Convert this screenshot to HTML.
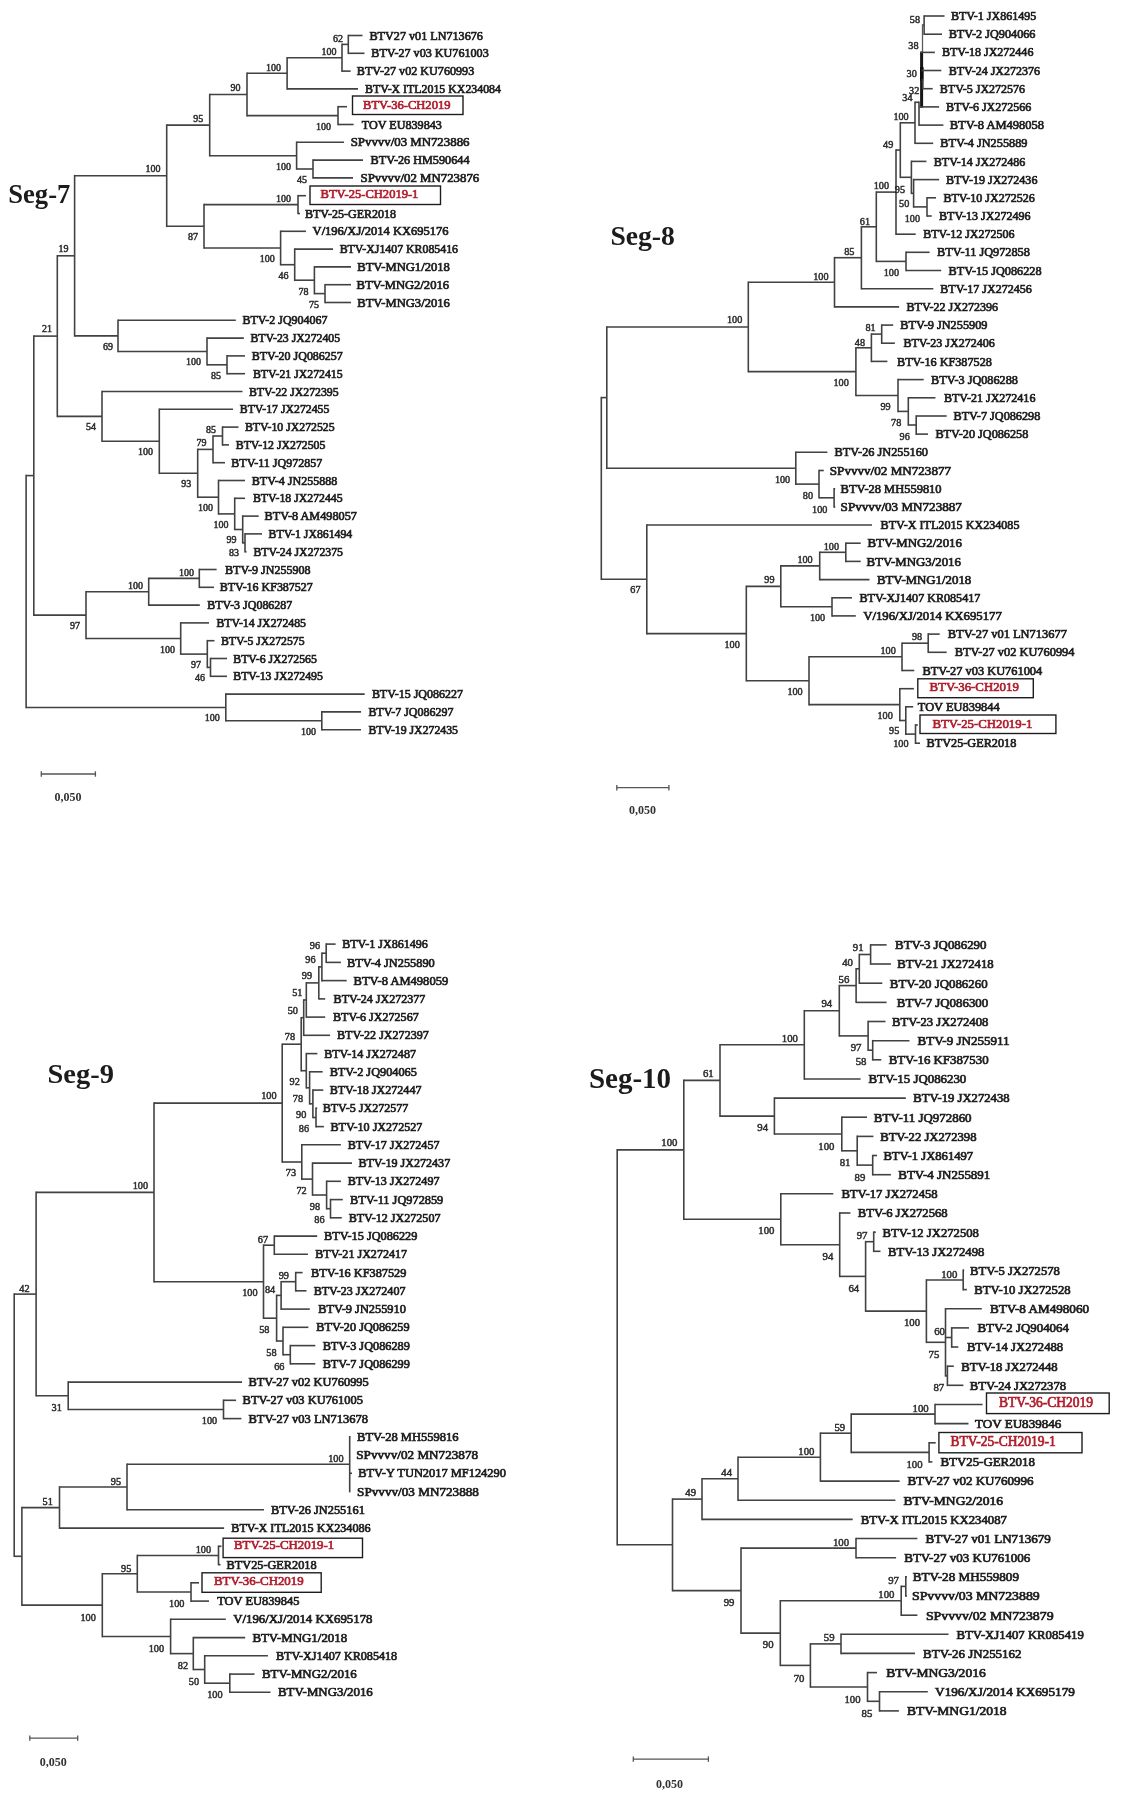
<!DOCTYPE html>
<html><head><meta charset="utf-8"><style>
html,body{margin:0;padding:0;background:#fff;}
svg{display:block;}
.t{font:12px "Liberation Serif",serif;fill:#1f1f1f;stroke:#1f1f1f;stroke-width:0.7px;}
.r{font:12px "Liberation Serif",serif;fill:#b01e2c;stroke:#b01e2c;stroke-width:0.7px;}
.l{font:10px "Liberation Serif",serif;fill:#2e2e2e;stroke:#2e2e2e;stroke-width:0.5px;}
.ti{font:bold 26px "Liberation Serif",serif;fill:#1a1a1a;}
.sc{font:bold 12.5px "Liberation Serif",serif;fill:#333;}
.bx{fill:none;stroke:#1e1e1e;stroke-width:1.4;}
.sb line{stroke:#555;stroke-width:1.3;}
</style></head><body>
<svg width="1126" height="1804" viewBox="0 0 1126 1804">
<defs><filter id="b" x="0" y="0" width="1" height="1"><feGaussianBlur stdDeviation="0.35"/></filter></defs>
<rect width="1126" height="1804" fill="#fff"/>
<g filter="url(#b)">
<g stroke="#424242" stroke-width="1.6" stroke-linecap="butt">
<line x1="26.1" y1="474.8" x2="26.1" y2="708.2"/>
<line x1="26.1" y1="475.6" x2="33.8" y2="475.6"/>
<line x1="33.8" y1="335.3" x2="33.8" y2="615.9"/>
<line x1="33.8" y1="336.1" x2="57.3" y2="336.1"/>
<line x1="57.3" y1="255.0" x2="57.3" y2="417.2"/>
<line x1="57.3" y1="255.8" x2="74.6" y2="255.8"/>
<line x1="74.6" y1="174.9" x2="74.6" y2="336.7"/>
<line x1="74.6" y1="175.7" x2="166.7" y2="175.7"/>
<line x1="166.7" y1="124.3" x2="166.7" y2="227.1"/>
<line x1="166.7" y1="125.1" x2="209.7" y2="125.1"/>
<line x1="209.7" y1="93.7" x2="209.7" y2="156.5"/>
<line x1="209.7" y1="94.5" x2="247.0" y2="94.5"/>
<line x1="247.0" y1="72.5" x2="247.0" y2="116.4"/>
<line x1="247.0" y1="73.3" x2="287.1" y2="73.3"/>
<line x1="287.1" y1="57.0" x2="287.1" y2="89.7"/>
<line x1="287.1" y1="57.8" x2="342.0" y2="57.8"/>
<line x1="342.0" y1="43.6" x2="342.0" y2="71.9"/>
<line x1="342.0" y1="44.4" x2="348.3" y2="44.4"/>
<line x1="348.3" y1="34.7" x2="348.3" y2="54.1"/>
<line x1="348.3" y1="35.5" x2="362.5" y2="35.5"/>
<line x1="348.3" y1="53.3" x2="364.5" y2="53.3"/>
<line x1="342.0" y1="71.1" x2="350.6" y2="71.1"/>
<line x1="287.1" y1="88.9" x2="358.0" y2="88.9"/>
<line x1="247.0" y1="115.6" x2="338.0" y2="115.6"/>
<line x1="338.0" y1="105.9" x2="338.0" y2="125.3"/>
<line x1="338.0" y1="106.7" x2="347.0" y2="106.7"/>
<line x1="338.0" y1="124.5" x2="353.6" y2="124.5"/>
<line x1="209.7" y1="155.7" x2="296.6" y2="155.7"/>
<line x1="296.6" y1="141.5" x2="296.6" y2="169.8"/>
<line x1="296.6" y1="142.3" x2="344.0" y2="142.3"/>
<line x1="296.6" y1="169.0" x2="313.0" y2="169.0"/>
<line x1="313.0" y1="159.3" x2="313.0" y2="178.7"/>
<line x1="313.0" y1="160.1" x2="363.0" y2="160.1"/>
<line x1="313.0" y1="177.9" x2="353.0" y2="177.9"/>
<line x1="166.7" y1="226.3" x2="204.0" y2="226.3"/>
<line x1="204.0" y1="203.8" x2="204.0" y2="248.8"/>
<line x1="204.0" y1="204.6" x2="298.0" y2="204.6"/>
<line x1="298.0" y1="194.9" x2="298.0" y2="214.3"/>
<line x1="298.0" y1="195.7" x2="306.0" y2="195.7"/>
<line x1="298.0" y1="213.5" x2="300.0" y2="213.5"/>
<line x1="204.0" y1="248.0" x2="280.6" y2="248.0"/>
<line x1="280.6" y1="230.5" x2="280.6" y2="265.5"/>
<line x1="280.6" y1="231.3" x2="306.0" y2="231.3"/>
<line x1="280.6" y1="264.7" x2="294.7" y2="264.7"/>
<line x1="294.7" y1="248.3" x2="294.7" y2="281.1"/>
<line x1="294.7" y1="249.1" x2="333.0" y2="249.1"/>
<line x1="294.7" y1="280.2" x2="314.4" y2="280.2"/>
<line x1="314.4" y1="266.1" x2="314.4" y2="294.4"/>
<line x1="314.4" y1="266.9" x2="351.0" y2="266.9"/>
<line x1="314.4" y1="293.6" x2="325.0" y2="293.6"/>
<line x1="325.0" y1="283.9" x2="325.0" y2="303.3"/>
<line x1="325.0" y1="284.7" x2="351.0" y2="284.7"/>
<line x1="325.0" y1="302.5" x2="351.0" y2="302.5"/>
<line x1="74.6" y1="335.9" x2="118.0" y2="335.9"/>
<line x1="118.0" y1="319.5" x2="118.0" y2="352.3"/>
<line x1="118.0" y1="320.3" x2="235.8" y2="320.3"/>
<line x1="118.0" y1="351.5" x2="207.0" y2="351.5"/>
<line x1="207.0" y1="337.3" x2="207.0" y2="365.6"/>
<line x1="207.0" y1="338.1" x2="243.8" y2="338.1"/>
<line x1="207.0" y1="364.8" x2="227.0" y2="364.8"/>
<line x1="227.0" y1="355.1" x2="227.0" y2="374.5"/>
<line x1="227.0" y1="355.9" x2="245.0" y2="355.9"/>
<line x1="227.0" y1="373.7" x2="245.0" y2="373.7"/>
<line x1="57.3" y1="416.4" x2="102.0" y2="416.4"/>
<line x1="102.0" y1="390.7" x2="102.0" y2="442.1"/>
<line x1="102.0" y1="391.5" x2="242.5" y2="391.5"/>
<line x1="102.0" y1="441.3" x2="159.3" y2="441.3"/>
<line x1="159.3" y1="408.5" x2="159.3" y2="474.1"/>
<line x1="159.3" y1="409.3" x2="233.0" y2="409.3"/>
<line x1="159.3" y1="473.3" x2="197.7" y2="473.3"/>
<line x1="197.7" y1="448.6" x2="197.7" y2="498.0"/>
<line x1="197.7" y1="449.4" x2="213.0" y2="449.4"/>
<line x1="213.0" y1="435.2" x2="213.0" y2="463.5"/>
<line x1="213.0" y1="436.0" x2="222.5" y2="436.0"/>
<line x1="222.5" y1="426.3" x2="222.5" y2="445.7"/>
<line x1="222.5" y1="427.1" x2="238.5" y2="427.1"/>
<line x1="222.5" y1="444.9" x2="229.0" y2="444.9"/>
<line x1="213.0" y1="462.7" x2="225.0" y2="462.7"/>
<line x1="197.7" y1="497.2" x2="218.5" y2="497.2"/>
<line x1="218.5" y1="479.7" x2="218.5" y2="514.7"/>
<line x1="218.5" y1="480.5" x2="245.0" y2="480.5"/>
<line x1="218.5" y1="513.9" x2="234.7" y2="513.9"/>
<line x1="234.7" y1="497.5" x2="234.7" y2="530.2"/>
<line x1="234.7" y1="498.3" x2="245.0" y2="498.3"/>
<line x1="234.7" y1="529.5" x2="242.7" y2="529.5"/>
<line x1="242.7" y1="515.3" x2="242.7" y2="543.6"/>
<line x1="242.7" y1="516.1" x2="258.7" y2="516.1"/>
<line x1="242.7" y1="542.8" x2="245.0" y2="542.8"/>
<line x1="245.0" y1="533.1" x2="245.0" y2="552.5"/>
<line x1="245.0" y1="533.9" x2="262.0" y2="533.9"/>
<line x1="245.0" y1="551.7" x2="246.5" y2="551.7"/>
<line x1="33.8" y1="615.1" x2="86.0" y2="615.1"/>
<line x1="86.0" y1="591.0" x2="86.0" y2="639.3"/>
<line x1="86.0" y1="591.8" x2="148.7" y2="591.8"/>
<line x1="148.7" y1="577.6" x2="148.7" y2="605.9"/>
<line x1="148.7" y1="578.4" x2="199.3" y2="578.4"/>
<line x1="199.3" y1="568.7" x2="199.3" y2="588.1"/>
<line x1="199.3" y1="569.5" x2="216.6" y2="569.5"/>
<line x1="199.3" y1="587.3" x2="214.0" y2="587.3"/>
<line x1="148.7" y1="605.1" x2="199.8" y2="605.1"/>
<line x1="86.0" y1="638.5" x2="180.7" y2="638.5"/>
<line x1="180.7" y1="622.1" x2="180.7" y2="654.9"/>
<line x1="180.7" y1="622.9" x2="209.0" y2="622.9"/>
<line x1="180.7" y1="654.1" x2="207.3" y2="654.1"/>
<line x1="207.3" y1="639.9" x2="207.3" y2="668.2"/>
<line x1="207.3" y1="640.7" x2="214.5" y2="640.7"/>
<line x1="207.3" y1="667.4" x2="210.5" y2="667.4"/>
<line x1="210.5" y1="657.7" x2="210.5" y2="677.1"/>
<line x1="210.5" y1="658.5" x2="227.0" y2="658.5"/>
<line x1="210.5" y1="676.3" x2="227.0" y2="676.3"/>
<line x1="26.1" y1="707.5" x2="225.8" y2="707.5"/>
<line x1="225.8" y1="693.3" x2="225.8" y2="721.6"/>
<line x1="225.8" y1="694.1" x2="364.7" y2="694.1"/>
<line x1="225.8" y1="720.8" x2="321.8" y2="720.8"/>
<line x1="321.8" y1="711.1" x2="321.8" y2="730.5"/>
<line x1="321.8" y1="711.9" x2="361.0" y2="711.9"/>
<line x1="321.8" y1="729.7" x2="361.0" y2="729.7"/>
<line x1="601.3" y1="396.8" x2="601.3" y2="580.1"/>
<line x1="601.3" y1="397.6" x2="606.8" y2="397.6"/>
<line x1="606.8" y1="326.2" x2="606.8" y2="469.0"/>
<line x1="606.8" y1="327.0" x2="748.3" y2="327.0"/>
<line x1="748.3" y1="281.5" x2="748.3" y2="372.4"/>
<line x1="748.3" y1="282.3" x2="834.5" y2="282.3"/>
<line x1="834.5" y1="256.9" x2="834.5" y2="307.7"/>
<line x1="834.5" y1="257.7" x2="861.4" y2="257.7"/>
<line x1="861.4" y1="226.0" x2="861.4" y2="289.5"/>
<line x1="861.4" y1="226.8" x2="876.3" y2="226.8"/>
<line x1="876.3" y1="191.3" x2="876.3" y2="262.2"/>
<line x1="876.3" y1="192.1" x2="896.0" y2="192.1"/>
<line x1="896.0" y1="149.3" x2="896.0" y2="235.0"/>
<line x1="896.0" y1="150.1" x2="900.3" y2="150.1"/>
<line x1="900.3" y1="122.0" x2="900.3" y2="178.1"/>
<line x1="900.3" y1="122.8" x2="915.0" y2="122.8"/>
<line x1="915.0" y1="101.5" x2="915.0" y2="144.1"/>
<line x1="915.0" y1="102.3" x2="919.0" y2="102.3"/>
<line x1="924.1" y1="15.2" x2="924.1" y2="35.0"/>
<line x1="924.1" y1="16.0" x2="944.5" y2="16.0"/>
<line x1="924.1" y1="34.2" x2="942.0" y2="34.2"/>
<line x1="922.5" y1="25.1" x2="924.1" y2="25.1"/>
<line x1="922.5" y1="24.3" x2="922.5" y2="53.2" stroke-width="1.3" stroke="#5a5a5a"/>
<line x1="921.6" y1="51.6" x2="921.6" y2="107.7" stroke-width="3.0" stroke="#161616"/>
<line x1="921.8" y1="67.2" x2="921.8" y2="80.8" stroke-width="3.6" stroke="#0a0a0a"/>
<line x1="920.4" y1="52.4" x2="934.9" y2="52.4"/>
<line x1="921.5" y1="70.5" x2="941.3" y2="70.5"/>
<line x1="923.2" y1="79.2" x2="923.2" y2="89.5" stroke-width="1.3" stroke="#6a6a6a"/>
<line x1="921.5" y1="80.0" x2="923.2" y2="80.0"/>
<line x1="923.2" y1="88.7" x2="932.7" y2="88.7"/>
<line x1="919.3" y1="106.9" x2="939.1" y2="106.9"/>
<line x1="919.0" y1="101.5" x2="919.0" y2="125.9"/>
<line x1="919.0" y1="125.1" x2="943.4" y2="125.1"/>
<line x1="915.0" y1="143.3" x2="933.2" y2="143.3"/>
<line x1="900.3" y1="177.3" x2="911.4" y2="177.3"/>
<line x1="911.4" y1="160.6" x2="911.4" y2="194.1"/>
<line x1="911.4" y1="161.4" x2="926.4" y2="161.4"/>
<line x1="911.4" y1="193.3" x2="913.6" y2="193.3"/>
<line x1="913.6" y1="178.8" x2="913.6" y2="207.7"/>
<line x1="913.6" y1="179.6" x2="939.1" y2="179.6"/>
<line x1="913.6" y1="206.9" x2="927.0" y2="206.9"/>
<line x1="927.0" y1="197.0" x2="927.0" y2="216.8"/>
<line x1="927.0" y1="197.8" x2="936.0" y2="197.8"/>
<line x1="927.0" y1="216.0" x2="931.7" y2="216.0"/>
<line x1="896.0" y1="234.2" x2="915.7" y2="234.2"/>
<line x1="876.3" y1="261.4" x2="906.0" y2="261.4"/>
<line x1="906.0" y1="251.5" x2="906.0" y2="271.3"/>
<line x1="906.0" y1="252.3" x2="929.6" y2="252.3"/>
<line x1="906.0" y1="270.5" x2="941.2" y2="270.5"/>
<line x1="861.4" y1="288.7" x2="933.3" y2="288.7"/>
<line x1="834.5" y1="306.9" x2="899.1" y2="306.9"/>
<line x1="748.3" y1="371.6" x2="855.9" y2="371.6"/>
<line x1="855.9" y1="347.0" x2="855.9" y2="396.3"/>
<line x1="855.9" y1="347.8" x2="871.4" y2="347.8"/>
<line x1="871.4" y1="333.3" x2="871.4" y2="362.2"/>
<line x1="871.4" y1="334.1" x2="881.7" y2="334.1"/>
<line x1="881.7" y1="324.3" x2="881.7" y2="344.0"/>
<line x1="881.7" y1="325.1" x2="893.2" y2="325.1"/>
<line x1="881.7" y1="343.2" x2="894.9" y2="343.2"/>
<line x1="871.4" y1="361.4" x2="887.4" y2="361.4"/>
<line x1="855.9" y1="395.5" x2="898.0" y2="395.5"/>
<line x1="898.0" y1="378.8" x2="898.0" y2="412.2"/>
<line x1="898.0" y1="379.6" x2="923.7" y2="379.6"/>
<line x1="898.0" y1="411.4" x2="908.3" y2="411.4"/>
<line x1="908.3" y1="397.0" x2="908.3" y2="425.8"/>
<line x1="908.3" y1="397.8" x2="935.4" y2="397.8"/>
<line x1="908.3" y1="425.0" x2="916.2" y2="425.0"/>
<line x1="916.2" y1="415.2" x2="916.2" y2="434.9"/>
<line x1="916.2" y1="416.0" x2="946.7" y2="416.0"/>
<line x1="916.2" y1="434.1" x2="928.0" y2="434.1"/>
<line x1="606.8" y1="468.2" x2="795.8" y2="468.2"/>
<line x1="795.8" y1="451.5" x2="795.8" y2="484.9"/>
<line x1="795.8" y1="452.3" x2="827.4" y2="452.3"/>
<line x1="795.8" y1="484.1" x2="819.0" y2="484.1"/>
<line x1="819.0" y1="469.7" x2="819.0" y2="498.6"/>
<line x1="819.0" y1="470.5" x2="823.8" y2="470.5"/>
<line x1="819.0" y1="497.8" x2="834.1" y2="497.8"/>
<line x1="834.1" y1="487.9" x2="834.1" y2="507.7"/>
<line x1="834.1" y1="488.7" x2="835.2" y2="488.7"/>
<line x1="834.1" y1="506.9" x2="835.2" y2="506.9"/>
<line x1="601.3" y1="579.3" x2="646.8" y2="579.3"/>
<line x1="646.8" y1="524.2" x2="646.8" y2="634.4"/>
<line x1="646.8" y1="525.0" x2="872.0" y2="525.0"/>
<line x1="646.8" y1="633.6" x2="746.3" y2="633.6"/>
<line x1="746.3" y1="585.6" x2="746.3" y2="681.5"/>
<line x1="746.3" y1="586.4" x2="780.8" y2="586.4"/>
<line x1="780.8" y1="565.1" x2="780.8" y2="607.6"/>
<line x1="780.8" y1="565.9" x2="819.7" y2="565.9"/>
<line x1="819.7" y1="551.5" x2="819.7" y2="580.4"/>
<line x1="819.7" y1="552.3" x2="845.8" y2="552.3"/>
<line x1="845.8" y1="542.4" x2="845.8" y2="562.2"/>
<line x1="845.8" y1="543.2" x2="860.7" y2="543.2"/>
<line x1="845.8" y1="561.4" x2="860.7" y2="561.4"/>
<line x1="819.7" y1="579.6" x2="869.5" y2="579.6"/>
<line x1="780.8" y1="606.8" x2="832.0" y2="606.8"/>
<line x1="832.0" y1="597.0" x2="832.0" y2="616.7"/>
<line x1="832.0" y1="597.8" x2="852.0" y2="597.8"/>
<line x1="832.0" y1="615.9" x2="855.8" y2="615.9"/>
<line x1="746.3" y1="680.7" x2="809.0" y2="680.7"/>
<line x1="809.0" y1="656.0" x2="809.0" y2="705.4"/>
<line x1="809.0" y1="656.8" x2="902.0" y2="656.8"/>
<line x1="902.0" y1="642.4" x2="902.0" y2="671.3"/>
<line x1="902.0" y1="643.2" x2="928.2" y2="643.2"/>
<line x1="928.2" y1="633.3" x2="928.2" y2="653.1"/>
<line x1="928.2" y1="634.1" x2="939.7" y2="634.1"/>
<line x1="928.2" y1="652.3" x2="946.7" y2="652.3"/>
<line x1="902.0" y1="670.5" x2="914.3" y2="670.5"/>
<line x1="809.0" y1="704.6" x2="899.8" y2="704.6"/>
<line x1="899.8" y1="687.9" x2="899.8" y2="721.3"/>
<line x1="899.8" y1="688.7" x2="913.9" y2="688.7"/>
<line x1="899.8" y1="720.5" x2="905.8" y2="720.5"/>
<line x1="905.8" y1="706.0" x2="905.8" y2="734.9"/>
<line x1="905.8" y1="706.8" x2="913.2" y2="706.8"/>
<line x1="905.8" y1="734.1" x2="915.5" y2="734.1"/>
<line x1="915.5" y1="724.2" x2="915.5" y2="744.0"/>
<line x1="915.5" y1="725.0" x2="917.8" y2="725.0"/>
<line x1="915.5" y1="743.2" x2="920.0" y2="743.2"/>
<line x1="14.2" y1="1293.3" x2="14.2" y2="1557.1"/>
<line x1="14.2" y1="1294.1" x2="36.1" y2="1294.1"/>
<line x1="36.1" y1="1191.6" x2="36.1" y2="1396.6"/>
<line x1="36.1" y1="1192.4" x2="154.0" y2="1192.4"/>
<line x1="154.0" y1="1102.3" x2="154.0" y2="1282.5"/>
<line x1="154.0" y1="1103.1" x2="282.2" y2="1103.1"/>
<line x1="282.2" y1="1043.4" x2="282.2" y2="1162.8"/>
<line x1="282.2" y1="1044.2" x2="301.2" y2="1044.2"/>
<line x1="301.2" y1="1016.9" x2="301.2" y2="1071.5"/>
<line x1="301.2" y1="1017.7" x2="303.7" y2="1017.7"/>
<line x1="303.7" y1="999.2" x2="303.7" y2="1036.1"/>
<line x1="303.7" y1="1000.0" x2="306.3" y2="1000.0"/>
<line x1="306.3" y1="982.1" x2="306.3" y2="1017.9"/>
<line x1="306.3" y1="982.9" x2="318.8" y2="982.9"/>
<line x1="318.8" y1="966.1" x2="318.8" y2="999.6"/>
<line x1="318.8" y1="966.9" x2="321.9" y2="966.9"/>
<line x1="321.9" y1="952.4" x2="321.9" y2="981.4"/>
<line x1="321.9" y1="953.2" x2="326.2" y2="953.2"/>
<line x1="326.2" y1="943.3" x2="326.2" y2="963.1"/>
<line x1="326.2" y1="944.1" x2="335.6" y2="944.1"/>
<line x1="326.2" y1="962.4" x2="340.9" y2="962.4"/>
<line x1="321.9" y1="980.6" x2="346.7" y2="980.6"/>
<line x1="318.8" y1="998.9" x2="325.2" y2="998.9"/>
<line x1="306.3" y1="1017.1" x2="325.2" y2="1017.1"/>
<line x1="303.7" y1="1035.3" x2="330.1" y2="1035.3"/>
<line x1="301.2" y1="1070.7" x2="306.3" y2="1070.7"/>
<line x1="306.3" y1="1052.8" x2="306.3" y2="1088.6"/>
<line x1="306.3" y1="1053.6" x2="317.4" y2="1053.6"/>
<line x1="306.3" y1="1087.8" x2="309.6" y2="1087.8"/>
<line x1="309.6" y1="1071.0" x2="309.6" y2="1104.6"/>
<line x1="309.6" y1="1071.8" x2="322.7" y2="1071.8"/>
<line x1="309.6" y1="1103.8" x2="312.9" y2="1103.8"/>
<line x1="312.9" y1="1089.3" x2="312.9" y2="1118.3"/>
<line x1="312.9" y1="1090.1" x2="323.3" y2="1090.1"/>
<line x1="312.9" y1="1117.5" x2="316.0" y2="1117.5"/>
<line x1="316.0" y1="1107.5" x2="316.0" y2="1127.4"/>
<line x1="316.0" y1="1108.3" x2="317.2" y2="1108.3"/>
<line x1="316.0" y1="1126.6" x2="323.9" y2="1126.6"/>
<line x1="282.2" y1="1162.0" x2="301.8" y2="1162.0"/>
<line x1="301.8" y1="1144.0" x2="301.8" y2="1179.9"/>
<line x1="301.8" y1="1144.8" x2="340.9" y2="1144.8"/>
<line x1="301.8" y1="1179.1" x2="312.5" y2="1179.1"/>
<line x1="312.5" y1="1162.3" x2="312.5" y2="1195.8"/>
<line x1="312.5" y1="1163.1" x2="352.0" y2="1163.1"/>
<line x1="312.5" y1="1195.0" x2="326.6" y2="1195.0"/>
<line x1="326.6" y1="1180.5" x2="326.6" y2="1209.5"/>
<line x1="326.6" y1="1181.3" x2="340.9" y2="1181.3"/>
<line x1="326.6" y1="1208.7" x2="330.5" y2="1208.7"/>
<line x1="330.5" y1="1198.8" x2="330.5" y2="1218.6"/>
<line x1="330.5" y1="1199.6" x2="342.8" y2="1199.6"/>
<line x1="330.5" y1="1217.8" x2="341.8" y2="1217.8"/>
<line x1="154.0" y1="1281.7" x2="263.5" y2="1281.7"/>
<line x1="263.5" y1="1244.4" x2="263.5" y2="1319.0"/>
<line x1="263.5" y1="1245.2" x2="274.3" y2="1245.2"/>
<line x1="274.3" y1="1235.3" x2="274.3" y2="1255.1"/>
<line x1="274.3" y1="1236.1" x2="317.2" y2="1236.1"/>
<line x1="274.3" y1="1254.3" x2="307.9" y2="1254.3"/>
<line x1="263.5" y1="1318.2" x2="276.6" y2="1318.2"/>
<line x1="276.6" y1="1294.6" x2="276.6" y2="1341.8"/>
<line x1="276.6" y1="1295.4" x2="281.1" y2="1295.4"/>
<line x1="281.1" y1="1280.9" x2="281.1" y2="1309.9"/>
<line x1="281.1" y1="1281.7" x2="295.7" y2="1281.7"/>
<line x1="295.7" y1="1271.8" x2="295.7" y2="1291.6"/>
<line x1="295.7" y1="1272.6" x2="302.6" y2="1272.6"/>
<line x1="295.7" y1="1290.8" x2="306.5" y2="1290.8"/>
<line x1="281.1" y1="1309.1" x2="309.8" y2="1309.1"/>
<line x1="276.6" y1="1341.0" x2="283.0" y2="1341.0"/>
<line x1="283.0" y1="1326.5" x2="283.0" y2="1355.5"/>
<line x1="283.0" y1="1327.3" x2="308.4" y2="1327.3"/>
<line x1="283.0" y1="1354.7" x2="290.3" y2="1354.7"/>
<line x1="290.3" y1="1344.8" x2="290.3" y2="1364.6"/>
<line x1="290.3" y1="1345.6" x2="315.3" y2="1345.6"/>
<line x1="290.3" y1="1363.8" x2="315.3" y2="1363.8"/>
<line x1="36.1" y1="1395.8" x2="68.2" y2="1395.8"/>
<line x1="68.2" y1="1381.3" x2="68.2" y2="1410.3"/>
<line x1="68.2" y1="1382.1" x2="242.0" y2="1382.1"/>
<line x1="68.2" y1="1409.5" x2="223.5" y2="1409.5"/>
<line x1="223.5" y1="1399.5" x2="223.5" y2="1419.4"/>
<line x1="223.5" y1="1400.3" x2="236.1" y2="1400.3"/>
<line x1="223.5" y1="1418.6" x2="241.4" y2="1418.6"/>
<line x1="14.2" y1="1556.3" x2="21.9" y2="1556.3"/>
<line x1="21.9" y1="1506.8" x2="21.9" y2="1605.9"/>
<line x1="21.9" y1="1507.6" x2="59.5" y2="1507.6"/>
<line x1="59.5" y1="1486.2" x2="59.5" y2="1528.9"/>
<line x1="59.5" y1="1487.0" x2="127.0" y2="1487.0"/>
<line x1="127.0" y1="1463.4" x2="127.0" y2="1510.6"/>
<line x1="127.0" y1="1464.2" x2="349.7" y2="1464.2"/>
<line x1="349.7" y1="1436.0" x2="349.7" y2="1492.4"/>
<line x1="349.7" y1="1436.8" x2="350.2" y2="1436.8"/>
<line x1="349.7" y1="1455.1" x2="349.7" y2="1455.1"/>
<line x1="349.7" y1="1473.3" x2="352.0" y2="1473.3"/>
<line x1="349.7" y1="1491.6" x2="349.7" y2="1491.6"/>
<line x1="127.0" y1="1509.8" x2="264.0" y2="1509.8"/>
<line x1="59.5" y1="1528.1" x2="224.1" y2="1528.1"/>
<line x1="21.9" y1="1605.1" x2="102.3" y2="1605.1"/>
<line x1="102.3" y1="1572.9" x2="102.3" y2="1637.3"/>
<line x1="102.3" y1="1573.7" x2="137.3" y2="1573.7"/>
<line x1="137.3" y1="1554.7" x2="137.3" y2="1592.8"/>
<line x1="137.3" y1="1555.5" x2="218.5" y2="1555.5"/>
<line x1="218.5" y1="1545.5" x2="218.5" y2="1565.4"/>
<line x1="218.5" y1="1546.3" x2="221.5" y2="1546.3"/>
<line x1="218.5" y1="1564.6" x2="220.5" y2="1564.6"/>
<line x1="137.3" y1="1592.0" x2="191.0" y2="1592.0"/>
<line x1="191.0" y1="1582.0" x2="191.0" y2="1601.9"/>
<line x1="191.0" y1="1582.8" x2="199.0" y2="1582.8"/>
<line x1="191.0" y1="1601.1" x2="209.0" y2="1601.1"/>
<line x1="102.3" y1="1636.5" x2="170.6" y2="1636.5"/>
<line x1="170.6" y1="1618.5" x2="170.6" y2="1654.4"/>
<line x1="170.6" y1="1619.3" x2="225.8" y2="1619.3"/>
<line x1="170.6" y1="1653.6" x2="193.3" y2="1653.6"/>
<line x1="193.3" y1="1636.8" x2="193.3" y2="1670.3"/>
<line x1="193.3" y1="1637.6" x2="245.2" y2="1637.6"/>
<line x1="193.3" y1="1669.5" x2="204.7" y2="1669.5"/>
<line x1="204.7" y1="1655.0" x2="204.7" y2="1684.0"/>
<line x1="204.7" y1="1655.8" x2="267.9" y2="1655.8"/>
<line x1="204.7" y1="1683.2" x2="229.8" y2="1683.2"/>
<line x1="229.8" y1="1673.3" x2="229.8" y2="1693.1"/>
<line x1="229.8" y1="1674.1" x2="254.5" y2="1674.1"/>
<line x1="229.8" y1="1692.3" x2="270.5" y2="1692.3"/>
<line x1="617.2" y1="1149.1" x2="617.2" y2="1545.6"/>
<line x1="617.2" y1="1149.9" x2="683.8" y2="1149.9"/>
<line x1="683.8" y1="1079.6" x2="683.8" y2="1220.1"/>
<line x1="683.8" y1="1080.4" x2="720.0" y2="1080.4"/>
<line x1="720.0" y1="1044.0" x2="720.0" y2="1116.9"/>
<line x1="720.0" y1="1044.8" x2="804.3" y2="1044.8"/>
<line x1="804.3" y1="1009.9" x2="804.3" y2="1079.8"/>
<line x1="804.3" y1="1010.7" x2="839.3" y2="1010.7"/>
<line x1="839.3" y1="984.8" x2="839.3" y2="1036.7"/>
<line x1="839.3" y1="985.6" x2="856.1" y2="985.6"/>
<line x1="856.1" y1="968.0" x2="856.1" y2="1003.1"/>
<line x1="856.1" y1="968.8" x2="859.3" y2="968.8"/>
<line x1="859.3" y1="953.7" x2="859.3" y2="984.0"/>
<line x1="859.3" y1="954.5" x2="870.6" y2="954.5"/>
<line x1="870.6" y1="944.1" x2="870.6" y2="964.8"/>
<line x1="870.6" y1="944.9" x2="886.6" y2="944.9"/>
<line x1="870.6" y1="964.0" x2="890.9" y2="964.0"/>
<line x1="859.3" y1="983.2" x2="882.3" y2="983.2"/>
<line x1="856.1" y1="1002.4" x2="886.6" y2="1002.4"/>
<line x1="839.3" y1="1035.9" x2="868.1" y2="1035.9"/>
<line x1="868.1" y1="1020.7" x2="868.1" y2="1051.0"/>
<line x1="868.1" y1="1021.5" x2="885.5" y2="1021.5"/>
<line x1="868.1" y1="1050.2" x2="872.7" y2="1050.2"/>
<line x1="872.7" y1="1039.9" x2="872.7" y2="1060.6"/>
<line x1="872.7" y1="1040.7" x2="909.5" y2="1040.7"/>
<line x1="872.7" y1="1059.8" x2="881.3" y2="1059.8"/>
<line x1="804.3" y1="1079.0" x2="860.6" y2="1079.0"/>
<line x1="720.0" y1="1116.1" x2="774.4" y2="1116.1"/>
<line x1="774.4" y1="1097.3" x2="774.4" y2="1134.8"/>
<line x1="774.4" y1="1098.1" x2="905.8" y2="1098.1"/>
<line x1="774.4" y1="1134.0" x2="841.8" y2="1134.0"/>
<line x1="841.8" y1="1116.5" x2="841.8" y2="1151.6"/>
<line x1="841.8" y1="1117.2" x2="867.0" y2="1117.2"/>
<line x1="841.8" y1="1150.8" x2="857.2" y2="1150.8"/>
<line x1="857.2" y1="1135.6" x2="857.2" y2="1165.9"/>
<line x1="857.2" y1="1136.4" x2="873.4" y2="1136.4"/>
<line x1="857.2" y1="1165.1" x2="872.7" y2="1165.1"/>
<line x1="872.7" y1="1154.8" x2="872.7" y2="1175.5"/>
<line x1="872.7" y1="1155.5" x2="877.0" y2="1155.5"/>
<line x1="872.7" y1="1174.7" x2="890.9" y2="1174.7"/>
<line x1="683.8" y1="1219.3" x2="780.8" y2="1219.3"/>
<line x1="780.8" y1="1193.0" x2="780.8" y2="1245.5"/>
<line x1="780.8" y1="1193.8" x2="833.3" y2="1193.8"/>
<line x1="780.8" y1="1244.7" x2="839.7" y2="1244.7"/>
<line x1="839.7" y1="1212.2" x2="839.7" y2="1277.2"/>
<line x1="839.7" y1="1213.0" x2="850.4" y2="1213.0"/>
<line x1="839.7" y1="1276.4" x2="865.6" y2="1276.4"/>
<line x1="865.6" y1="1240.9" x2="865.6" y2="1311.9"/>
<line x1="865.6" y1="1241.7" x2="873.7" y2="1241.7"/>
<line x1="873.7" y1="1231.4" x2="873.7" y2="1252.1"/>
<line x1="873.7" y1="1232.2" x2="875.8" y2="1232.2"/>
<line x1="873.7" y1="1251.3" x2="880.5" y2="1251.3"/>
<line x1="865.6" y1="1311.1" x2="926.4" y2="1311.1"/>
<line x1="926.4" y1="1279.2" x2="926.4" y2="1343.1"/>
<line x1="926.4" y1="1280.0" x2="963.2" y2="1280.0"/>
<line x1="963.2" y1="1269.6" x2="963.2" y2="1290.4"/>
<line x1="963.2" y1="1270.4" x2="964.2" y2="1270.4"/>
<line x1="963.2" y1="1289.6" x2="966.9" y2="1289.6"/>
<line x1="926.4" y1="1342.3" x2="945.5" y2="1342.3"/>
<line x1="945.5" y1="1308.0" x2="945.5" y2="1376.6"/>
<line x1="945.5" y1="1308.8" x2="981.8" y2="1308.8"/>
<line x1="945.5" y1="1337.5" x2="951.7" y2="1337.5"/>
<line x1="951.7" y1="1327.1" x2="951.7" y2="1347.8"/>
<line x1="951.7" y1="1327.9" x2="969.0" y2="1327.9"/>
<line x1="951.7" y1="1347.0" x2="958.3" y2="1347.0"/>
<line x1="945.5" y1="1375.8" x2="947.4" y2="1375.8"/>
<line x1="947.4" y1="1365.4" x2="947.4" y2="1386.1"/>
<line x1="947.4" y1="1366.2" x2="953.8" y2="1366.2"/>
<line x1="947.4" y1="1385.3" x2="963.4" y2="1385.3"/>
<line x1="617.2" y1="1544.8" x2="672.5" y2="1544.8"/>
<line x1="672.5" y1="1498.3" x2="672.5" y2="1591.4"/>
<line x1="672.5" y1="1499.1" x2="702.0" y2="1499.1"/>
<line x1="702.0" y1="1477.9" x2="702.0" y2="1520.2"/>
<line x1="702.0" y1="1478.7" x2="738.0" y2="1478.7"/>
<line x1="738.0" y1="1456.4" x2="738.0" y2="1501.0"/>
<line x1="738.0" y1="1457.2" x2="820.4" y2="1457.2"/>
<line x1="820.4" y1="1432.4" x2="820.4" y2="1481.9"/>
<line x1="820.4" y1="1433.2" x2="851.2" y2="1433.2"/>
<line x1="851.2" y1="1413.3" x2="851.2" y2="1453.2"/>
<line x1="851.2" y1="1414.1" x2="935.0" y2="1414.1"/>
<line x1="935.0" y1="1403.7" x2="935.0" y2="1424.4"/>
<line x1="935.0" y1="1404.5" x2="982.6" y2="1404.5"/>
<line x1="935.0" y1="1423.6" x2="968.5" y2="1423.6"/>
<line x1="851.2" y1="1452.4" x2="929.1" y2="1452.4"/>
<line x1="929.1" y1="1442.0" x2="929.1" y2="1462.7"/>
<line x1="929.1" y1="1442.8" x2="935.7" y2="1442.8"/>
<line x1="929.1" y1="1461.9" x2="932.4" y2="1461.9"/>
<line x1="820.4" y1="1481.1" x2="899.6" y2="1481.1"/>
<line x1="738.0" y1="1500.2" x2="895.4" y2="1500.2"/>
<line x1="702.0" y1="1519.4" x2="852.7" y2="1519.4"/>
<line x1="672.5" y1="1590.6" x2="741.0" y2="1590.6"/>
<line x1="741.0" y1="1547.3" x2="741.0" y2="1633.9"/>
<line x1="741.0" y1="1548.1" x2="856.0" y2="1548.1"/>
<line x1="856.0" y1="1537.8" x2="856.0" y2="1558.5"/>
<line x1="856.0" y1="1538.5" x2="917.4" y2="1538.5"/>
<line x1="856.0" y1="1557.7" x2="896.1" y2="1557.7"/>
<line x1="741.0" y1="1633.1" x2="780.3" y2="1633.1"/>
<line x1="780.3" y1="1600.0" x2="780.3" y2="1666.2"/>
<line x1="780.3" y1="1600.8" x2="901.2" y2="1600.8"/>
<line x1="901.2" y1="1585.6" x2="901.2" y2="1616.0"/>
<line x1="901.2" y1="1586.4" x2="905.8" y2="1586.4"/>
<line x1="905.8" y1="1576.0" x2="905.8" y2="1596.8"/>
<line x1="905.8" y1="1576.8" x2="906.8" y2="1576.8"/>
<line x1="905.8" y1="1596.0" x2="906.8" y2="1596.0"/>
<line x1="901.2" y1="1615.2" x2="917.4" y2="1615.2"/>
<line x1="780.3" y1="1665.4" x2="810.4" y2="1665.4"/>
<line x1="810.4" y1="1643.1" x2="810.4" y2="1687.8"/>
<line x1="810.4" y1="1643.9" x2="841.0" y2="1643.9"/>
<line x1="841.0" y1="1633.5" x2="841.0" y2="1654.2"/>
<line x1="841.0" y1="1634.3" x2="948.5" y2="1634.3"/>
<line x1="841.0" y1="1653.4" x2="915.0" y2="1653.4"/>
<line x1="810.4" y1="1687.0" x2="867.5" y2="1687.0"/>
<line x1="867.5" y1="1671.8" x2="867.5" y2="1702.1"/>
<line x1="867.5" y1="1672.6" x2="877.0" y2="1672.6"/>
<line x1="867.5" y1="1701.3" x2="879.5" y2="1701.3"/>
<line x1="879.5" y1="1691.0" x2="879.5" y2="1711.7"/>
<line x1="879.5" y1="1691.8" x2="927.8" y2="1691.8"/>
<line x1="879.5" y1="1710.9" x2="898.9" y2="1710.9"/>
</g>
<g style="font-size:12px">
<text class="t" x="369.5" y="39.5" textLength="113.4" lengthAdjust="spacingAndGlyphs">BTV27 v01 LN713676</text>
<text class="t" x="371.3" y="57.3" textLength="117.4" lengthAdjust="spacingAndGlyphs">BTV-27 v03 KU761003</text>
<text class="l" style="font-size:10px" x="343.0" y="42.2" text-anchor="end">62</text>
<text class="t" x="356.8" y="75.1" textLength="117.4" lengthAdjust="spacingAndGlyphs">BTV-27 v02 KU760993</text>
<text class="l" style="font-size:10px" x="336.5" y="55.4" text-anchor="end">100</text>
<text class="t" x="365.0" y="92.9" textLength="136.0" lengthAdjust="spacingAndGlyphs">BTV-X ITL2015 KX234084</text>
<text class="l" style="font-size:10px" x="281.0" y="71.4" text-anchor="end">100</text>
<text class="r" style="font-size:12.84px" x="363.0" y="109.2" textLength="87.5" lengthAdjust="spacingAndGlyphs">BTV-36-CH2019</text>
<rect x="352.5" y="96.0" width="110.5" height="18.5" class="bx"/>
<text class="t" x="361.7" y="128.5" textLength="80.2" lengthAdjust="spacingAndGlyphs">TOV EU839843</text>
<text class="l" style="font-size:10px" x="331.0" y="130.0" text-anchor="end">100</text>
<text class="l" style="font-size:10px" x="240.6" y="91.4" text-anchor="end">90</text>
<text class="t" x="350.7" y="146.3" textLength="118.8" lengthAdjust="spacingAndGlyphs">SPvvvv/03 MN723886</text>
<text class="t" x="370.6" y="164.1" textLength="98.9" lengthAdjust="spacingAndGlyphs">BTV-26 HM590644</text>
<text class="t" x="360.5" y="181.9" textLength="118.8" lengthAdjust="spacingAndGlyphs">SPvvvv/02 MN723876</text>
<text class="l" style="font-size:10px" x="307.0" y="183.4" text-anchor="end">45</text>
<text class="l" style="font-size:10px" x="291.0" y="170.2" text-anchor="end">100</text>
<text class="l" style="font-size:10px" x="203.3" y="121.9" text-anchor="end">95</text>
<text class="r" style="font-size:12.84px" x="320.6" y="198.2" textLength="97.8" lengthAdjust="spacingAndGlyphs">BTV-25-CH2019-1</text>
<rect x="310.0" y="186.0" width="130.5" height="18.5" class="bx"/>
<text class="t" x="305.0" y="217.5" textLength="91.1" lengthAdjust="spacingAndGlyphs">BTV-25-GER2018</text>
<text class="l" style="font-size:10px" x="291.0" y="202.1" text-anchor="end">100</text>
<text class="t" x="312.6" y="235.3" textLength="135.9" lengthAdjust="spacingAndGlyphs">V/196/XJ/2014 KX695176</text>
<text class="t" x="339.7" y="253.1" textLength="118.3" lengthAdjust="spacingAndGlyphs">BTV-XJ1407 KR085416</text>
<text class="t" x="357.3" y="270.9" textLength="92.5" lengthAdjust="spacingAndGlyphs">BTV-MNG1/2018</text>
<text class="t" x="356.5" y="288.7" textLength="92.5" lengthAdjust="spacingAndGlyphs">BTV-MNG2/2016</text>
<text class="t" x="357.3" y="306.5" textLength="92.5" lengthAdjust="spacingAndGlyphs">BTV-MNG3/2016</text>
<text class="l" style="font-size:10px" x="319.0" y="308.2" text-anchor="end">75</text>
<text class="l" style="font-size:10px" x="308.6" y="294.9" text-anchor="end">78</text>
<text class="l" style="font-size:10px" x="288.6" y="279.1" text-anchor="end">46</text>
<text class="l" style="font-size:10px" x="274.7" y="261.8" text-anchor="end">100</text>
<text class="l" style="font-size:10px" x="198.0" y="240.4" text-anchor="end">87</text>
<text class="l" style="font-size:10px" x="160.4" y="171.9" text-anchor="end">100</text>
<text class="t" x="242.5" y="324.3" textLength="85.0" lengthAdjust="spacingAndGlyphs">BTV-2 JQ904067</text>
<text class="t" x="250.5" y="342.1" textLength="89.6" lengthAdjust="spacingAndGlyphs">BTV-23 JX272405</text>
<text class="t" x="251.8" y="359.9" textLength="91.0" lengthAdjust="spacingAndGlyphs">BTV-20 JQ086257</text>
<text class="t" x="253.0" y="377.7" textLength="89.6" lengthAdjust="spacingAndGlyphs">BTV-21 JX272415</text>
<text class="l" style="font-size:10px" x="221.0" y="379.4" text-anchor="end">85</text>
<text class="l" style="font-size:10px" x="201.0" y="365.4" text-anchor="end">100</text>
<text class="l" style="font-size:10px" x="113.0" y="350.0" text-anchor="end">69</text>
<text class="l" style="font-size:10px" x="68.4" y="252.4" text-anchor="end">19</text>
<text class="t" x="249.0" y="395.5" textLength="89.6" lengthAdjust="spacingAndGlyphs">BTV-22 JX272395</text>
<text class="t" x="239.8" y="413.3" textLength="89.6" lengthAdjust="spacingAndGlyphs">BTV-17 JX272455</text>
<text class="t" x="245.0" y="431.1" textLength="89.6" lengthAdjust="spacingAndGlyphs">BTV-10 JX272525</text>
<text class="t" x="235.8" y="448.9" textLength="89.6" lengthAdjust="spacingAndGlyphs">BTV-12 JX272505</text>
<text class="l" style="font-size:10px" x="216.0" y="432.7" text-anchor="end">85</text>
<text class="t" x="231.3" y="466.7" textLength="91.0" lengthAdjust="spacingAndGlyphs">BTV-11 JQ972857</text>
<text class="l" style="font-size:10px" x="206.5" y="446.0" text-anchor="end">79</text>
<text class="t" x="251.8" y="484.5" textLength="85.5" lengthAdjust="spacingAndGlyphs">BTV-4 JN255888</text>
<text class="t" x="253.0" y="502.3" textLength="89.6" lengthAdjust="spacingAndGlyphs">BTV-18 JX272445</text>
<text class="t" x="264.6" y="520.1" textLength="92.3" lengthAdjust="spacingAndGlyphs">BTV-8 AM498057</text>
<text class="t" x="268.6" y="537.9" textLength="83.6" lengthAdjust="spacingAndGlyphs">BTV-1 JX861494</text>
<text class="t" x="253.4" y="555.7" textLength="89.6" lengthAdjust="spacingAndGlyphs">BTV-24 JX272375</text>
<text class="l" style="font-size:10px" x="239.0" y="556.4" text-anchor="end">83</text>
<text class="l" style="font-size:10px" x="236.6" y="543.2" text-anchor="end">99</text>
<text class="l" style="font-size:10px" x="228.6" y="528.0" text-anchor="end">100</text>
<text class="l" style="font-size:10px" x="213.0" y="511.4" text-anchor="end">100</text>
<text class="l" style="font-size:10px" x="191.3" y="487.4" text-anchor="end">93</text>
<text class="l" style="font-size:10px" x="153.0" y="455.4" text-anchor="end">100</text>
<text class="l" style="font-size:10px" x="96.0" y="430.0" text-anchor="end">54</text>
<text class="l" style="font-size:10px" x="52.0" y="332.2" text-anchor="end">21</text>
<text class="t" x="225.0" y="573.5" textLength="85.5" lengthAdjust="spacingAndGlyphs">BTV-9 JN255908</text>
<text class="t" x="219.8" y="591.3" textLength="93.0" lengthAdjust="spacingAndGlyphs">BTV-16 KF387527</text>
<text class="l" style="font-size:10px" x="194.0" y="575.7" text-anchor="end">100</text>
<text class="t" x="207.3" y="609.1" textLength="85.0" lengthAdjust="spacingAndGlyphs">BTV-3 JQ086287</text>
<text class="l" style="font-size:10px" x="143.0" y="588.7" text-anchor="end">100</text>
<text class="t" x="216.4" y="626.9" textLength="89.6" lengthAdjust="spacingAndGlyphs">BTV-14 JX272485</text>
<text class="t" x="221.0" y="644.7" textLength="83.6" lengthAdjust="spacingAndGlyphs">BTV-5 JX272575</text>
<text class="t" x="233.3" y="662.5" textLength="83.6" lengthAdjust="spacingAndGlyphs">BTV-6 JX272565</text>
<text class="t" x="233.3" y="680.3" textLength="89.6" lengthAdjust="spacingAndGlyphs">BTV-13 JX272495</text>
<text class="l" style="font-size:10px" x="205.0" y="681.4" text-anchor="end">46</text>
<text class="l" style="font-size:10px" x="201.0" y="668.4" text-anchor="end">97</text>
<text class="l" style="font-size:10px" x="175.0" y="652.7" text-anchor="end">100</text>
<text class="l" style="font-size:10px" x="80.0" y="628.7" text-anchor="end">97</text>
<text class="t" x="371.9" y="698.1" textLength="91.0" lengthAdjust="spacingAndGlyphs">BTV-15 JQ086227</text>
<text class="t" x="368.4" y="715.9" textLength="85.0" lengthAdjust="spacingAndGlyphs">BTV-7 JQ086297</text>
<text class="t" x="368.4" y="733.7" textLength="89.6" lengthAdjust="spacingAndGlyphs">BTV-19 JX272435</text>
<text class="l" style="font-size:10px" x="316.0" y="735.4" text-anchor="end">100</text>
<text class="l" style="font-size:10px" x="219.8" y="721.4" text-anchor="end">100</text>
</g>
<g style="font-size:12.25px">
<text class="t" x="950.9" y="20.1" textLength="85.3" lengthAdjust="spacingAndGlyphs">BTV-1 JX861495</text>
<text class="t" x="948.7" y="38.3" textLength="86.8" lengthAdjust="spacingAndGlyphs">BTV-2 JQ904066</text>
<text class="t" x="942.0" y="56.4" textLength="91.4" lengthAdjust="spacingAndGlyphs">BTV-18 JX272446</text>
<text class="t" x="948.7" y="74.6" textLength="91.4" lengthAdjust="spacingAndGlyphs">BTV-24 JX272376</text>
<text class="t" x="939.8" y="92.8" textLength="85.3" lengthAdjust="spacingAndGlyphs">BTV-5 JX272576</text>
<text class="t" x="946.0" y="111.0" textLength="85.3" lengthAdjust="spacingAndGlyphs">BTV-6 JX272566</text>
<text class="t" x="949.8" y="129.2" textLength="94.2" lengthAdjust="spacingAndGlyphs">BTV-8 AM498058</text>
<text class="t" x="940.2" y="147.3" textLength="87.3" lengthAdjust="spacingAndGlyphs">BTV-4 JN255889</text>
<text class="l" style="font-size:10.2px" x="908.7" y="119.8" text-anchor="end">100</text>
<text class="t" x="933.8" y="165.5" textLength="91.4" lengthAdjust="spacingAndGlyphs">BTV-14 JX272486</text>
<text class="t" x="946.0" y="183.7" textLength="91.4" lengthAdjust="spacingAndGlyphs">BTV-19 JX272436</text>
<text class="t" x="943.4" y="201.9" textLength="91.4" lengthAdjust="spacingAndGlyphs">BTV-10 JX272526</text>
<text class="t" x="939.1" y="220.1" textLength="91.4" lengthAdjust="spacingAndGlyphs">BTV-13 JX272496</text>
<text class="l" style="font-size:10.2px" x="920.0" y="221.8" text-anchor="end">100</text>
<text class="l" style="font-size:10.2px" x="909.3" y="207.3" text-anchor="end">50</text>
<text class="l" style="font-size:10.2px" x="905.0" y="192.5" text-anchor="end">95</text>
<text class="l" style="font-size:10.2px" x="893.3" y="147.5" text-anchor="end">49</text>
<text class="t" x="923.2" y="238.2" textLength="91.4" lengthAdjust="spacingAndGlyphs">BTV-12 JX272506</text>
<text class="l" style="font-size:10.2px" x="889.0" y="189.2" text-anchor="end">100</text>
<text class="t" x="937.0" y="256.4" textLength="92.9" lengthAdjust="spacingAndGlyphs">BTV-11 JQ972858</text>
<text class="t" x="948.6" y="274.6" textLength="92.9" lengthAdjust="spacingAndGlyphs">BTV-15 JQ086228</text>
<text class="l" style="font-size:10.2px" x="899.0" y="275.7" text-anchor="end">100</text>
<text class="l" style="font-size:10.2px" x="870.0" y="224.5" text-anchor="end">61</text>
<text class="t" x="940.3" y="292.8" textLength="91.4" lengthAdjust="spacingAndGlyphs">BTV-17 JX272456</text>
<text class="l" style="font-size:10.2px" x="854.4" y="254.7" text-anchor="end">85</text>
<text class="t" x="906.6" y="311.0" textLength="91.4" lengthAdjust="spacingAndGlyphs">BTV-22 JX272396</text>
<text class="l" style="font-size:10.2px" x="828.5" y="279.6" text-anchor="end">100</text>
<text class="t" x="900.2" y="329.1" textLength="87.3" lengthAdjust="spacingAndGlyphs">BTV-9 JN255909</text>
<text class="t" x="903.4" y="347.3" textLength="91.4" lengthAdjust="spacingAndGlyphs">BTV-23 JX272406</text>
<text class="l" style="font-size:10.2px" x="875.7" y="331.2" text-anchor="end">81</text>
<text class="t" x="897.0" y="365.5" textLength="94.9" lengthAdjust="spacingAndGlyphs">BTV-16 KF387528</text>
<text class="l" style="font-size:10.2px" x="865.0" y="345.8" text-anchor="end">48</text>
<text class="t" x="931.1" y="383.7" textLength="86.8" lengthAdjust="spacingAndGlyphs">BTV-3 JQ086288</text>
<text class="t" x="944.0" y="401.9" textLength="91.4" lengthAdjust="spacingAndGlyphs">BTV-21 JX272416</text>
<text class="t" x="953.5" y="420.0" textLength="86.8" lengthAdjust="spacingAndGlyphs">BTV-7 JQ086298</text>
<text class="t" x="935.4" y="438.2" textLength="92.9" lengthAdjust="spacingAndGlyphs">BTV-20 JQ086258</text>
<text class="l" style="font-size:10.2px" x="909.8" y="439.6" text-anchor="end">96</text>
<text class="l" style="font-size:10.2px" x="901.3" y="425.5" text-anchor="end">78</text>
<text class="l" style="font-size:10.2px" x="890.6" y="409.8" text-anchor="end">99</text>
<text class="l" style="font-size:10.2px" x="848.8" y="386.3" text-anchor="end">100</text>
<text class="l" style="font-size:10.2px" x="742.3" y="323.4" text-anchor="end">100</text>
<text class="t" x="834.6" y="456.4" textLength="93.4" lengthAdjust="spacingAndGlyphs">BTV-26 JN255160</text>
<text class="t" x="829.8" y="474.6" textLength="121.3" lengthAdjust="spacingAndGlyphs">SPvvvv/02 MN723877</text>
<text class="t" x="840.6" y="492.8" textLength="101.0" lengthAdjust="spacingAndGlyphs">BTV-28 MH559810</text>
<text class="t" x="840.6" y="510.9" textLength="121.3" lengthAdjust="spacingAndGlyphs">SPvvvv/03 MN723887</text>
<text class="l" style="font-size:10.2px" x="827.4" y="512.5" text-anchor="end">100</text>
<text class="l" style="font-size:10.2px" x="813.0" y="498.5" text-anchor="end">80</text>
<text class="l" style="font-size:10.2px" x="790.2" y="482.5" text-anchor="end">100</text>
<text class="t" x="880.6" y="529.1" textLength="138.9" lengthAdjust="spacingAndGlyphs">BTV-X ITL2015 KX234085</text>
<text class="t" x="867.5" y="547.3" textLength="94.4" lengthAdjust="spacingAndGlyphs">BTV-MNG2/2016</text>
<text class="t" x="866.5" y="565.5" textLength="94.4" lengthAdjust="spacingAndGlyphs">BTV-MNG3/2016</text>
<text class="l" style="font-size:10.2px" x="839.0" y="549.5" text-anchor="end">100</text>
<text class="t" x="876.9" y="583.7" textLength="94.4" lengthAdjust="spacingAndGlyphs">BTV-MNG1/2018</text>
<text class="l" style="font-size:10.2px" x="812.7" y="563.3" text-anchor="end">100</text>
<text class="t" x="859.5" y="601.8" textLength="120.8" lengthAdjust="spacingAndGlyphs">BTV-XJ1407 KR085417</text>
<text class="t" x="863.2" y="620.0" textLength="138.7" lengthAdjust="spacingAndGlyphs">V/196/XJ/2014 KX695177</text>
<text class="l" style="font-size:10.2px" x="825.2" y="621.0" text-anchor="end">100</text>
<text class="l" style="font-size:10.2px" x="774.5" y="583.1" text-anchor="end">99</text>
<text class="t" x="947.8" y="638.2" textLength="119.1" lengthAdjust="spacingAndGlyphs">BTV-27 v01 LN713677</text>
<text class="t" x="954.7" y="656.4" textLength="119.8" lengthAdjust="spacingAndGlyphs">BTV-27 v02 KU760994</text>
<text class="l" style="font-size:10.2px" x="922.2" y="640.0" text-anchor="end">98</text>
<text class="t" x="922.4" y="674.6" textLength="119.8" lengthAdjust="spacingAndGlyphs">BTV-27 v03 KU761004</text>
<text class="l" style="font-size:10.2px" x="895.8" y="653.9" text-anchor="end">100</text>
<text class="r" style="font-size:13.11px" x="929.5" y="691.2" textLength="89.3" lengthAdjust="spacingAndGlyphs">BTV-36-CH2019</text>
<rect x="917.8" y="678.8" width="115.5" height="18.9" class="bx"/>
<text class="t" x="917.8" y="710.9" textLength="81.9" lengthAdjust="spacingAndGlyphs">TOV EU839844</text>
<text class="r" style="font-size:13.11px" x="932.5" y="727.6" textLength="99.8" lengthAdjust="spacingAndGlyphs">BTV-25-CH2019-1</text>
<rect x="920.0" y="715.0" width="135.9" height="18.5" class="bx"/>
<text class="t" x="926.6" y="747.3" textLength="89.7" lengthAdjust="spacingAndGlyphs">BTV25-GER2018</text>
<text class="l" style="font-size:10.2px" x="908.5" y="747.4" text-anchor="end">100</text>
<text class="l" style="font-size:10.2px" x="899.3" y="734.3" text-anchor="end">95</text>
<text class="l" style="font-size:10.2px" x="892.8" y="719.0" text-anchor="end">100</text>
<text class="l" style="font-size:10.2px" x="802.7" y="694.6" text-anchor="end">100</text>
<text class="l" style="font-size:10.2px" x="739.8" y="648.1" text-anchor="end">100</text>
<text class="l" style="font-size:10.2px" x="640.5" y="592.9" text-anchor="end">67</text>
</g>
<text class="l" style="font-size:10.2px" x="920" y="22.7" text-anchor="end">58</text>
<text class="l" style="font-size:10.2px" x="918.5" y="49.3" text-anchor="end">38</text>
<text class="l" style="font-size:10.2px" x="916.8" y="77.1" text-anchor="end">30</text>
<text class="l" style="font-size:10.2px" x="919.3" y="94.1" text-anchor="end">32</text>
<text class="l" style="font-size:10.2px" x="912.5" y="100.5" text-anchor="end">34</text>
<g style="font-size:12.3px">
<text class="t" x="342.2" y="948.2" textLength="85.7" lengthAdjust="spacingAndGlyphs">BTV-1 JX861496</text>
<text class="t" x="347.1" y="966.5" textLength="87.7" lengthAdjust="spacingAndGlyphs">BTV-4 JN255890</text>
<text class="l" style="font-size:10.25px" x="320.0" y="949.1" text-anchor="end">96</text>
<text class="t" x="353.6" y="984.7" textLength="94.6" lengthAdjust="spacingAndGlyphs">BTV-8 AM498059</text>
<text class="l" style="font-size:10.25px" x="315.5" y="962.8" text-anchor="end">96</text>
<text class="t" x="333.6" y="1003.0" textLength="91.8" lengthAdjust="spacingAndGlyphs">BTV-24 JX272377</text>
<text class="l" style="font-size:10.25px" x="312.0" y="979.4" text-anchor="end">99</text>
<text class="t" x="333.0" y="1021.2" textLength="85.7" lengthAdjust="spacingAndGlyphs">BTV-6 JX272567</text>
<text class="l" style="font-size:10.25px" x="302.4" y="996.0" text-anchor="end">51</text>
<text class="t" x="337.0" y="1039.4" textLength="91.8" lengthAdjust="spacingAndGlyphs">BTV-22 JX272397</text>
<text class="l" style="font-size:10.25px" x="297.9" y="1013.5" text-anchor="end">50</text>
<text class="t" x="324.2" y="1057.7" textLength="91.8" lengthAdjust="spacingAndGlyphs">BTV-14 JX272487</text>
<text class="t" x="329.7" y="1075.9" textLength="87.1" lengthAdjust="spacingAndGlyphs">BTV-2 JQ904065</text>
<text class="t" x="329.7" y="1094.2" textLength="91.8" lengthAdjust="spacingAndGlyphs">BTV-18 JX272447</text>
<text class="t" x="322.7" y="1112.4" textLength="85.7" lengthAdjust="spacingAndGlyphs">BTV-5 JX272577</text>
<text class="t" x="330.5" y="1130.7" textLength="91.8" lengthAdjust="spacingAndGlyphs">BTV-10 JX272527</text>
<text class="l" style="font-size:10.25px" x="309.0" y="1131.5" text-anchor="end">86</text>
<text class="l" style="font-size:10.25px" x="306.3" y="1117.9" text-anchor="end">90</text>
<text class="l" style="font-size:10.25px" x="303.1" y="1101.5" text-anchor="end">78</text>
<text class="l" style="font-size:10.25px" x="299.8" y="1084.7" text-anchor="end">92</text>
<text class="l" style="font-size:10.25px" x="295.0" y="1040.0" text-anchor="end">78</text>
<text class="t" x="347.7" y="1148.9" textLength="91.8" lengthAdjust="spacingAndGlyphs">BTV-17 JX272457</text>
<text class="t" x="358.4" y="1167.2" textLength="91.8" lengthAdjust="spacingAndGlyphs">BTV-19 JX272437</text>
<text class="t" x="347.7" y="1185.4" textLength="91.8" lengthAdjust="spacingAndGlyphs">BTV-13 JX272497</text>
<text class="t" x="350.0" y="1203.7" textLength="93.3" lengthAdjust="spacingAndGlyphs">BTV-11 JQ972859</text>
<text class="t" x="348.7" y="1221.9" textLength="91.8" lengthAdjust="spacingAndGlyphs">BTV-12 JX272507</text>
<text class="l" style="font-size:10.25px" x="324.6" y="1223.0" text-anchor="end">86</text>
<text class="l" style="font-size:10.25px" x="320.0" y="1209.7" text-anchor="end">98</text>
<text class="l" style="font-size:10.25px" x="306.7" y="1194.1" text-anchor="end">72</text>
<text class="l" style="font-size:10.25px" x="296.0" y="1176.1" text-anchor="end">73</text>
<text class="l" style="font-size:10.25px" x="276.6" y="1099.2" text-anchor="end">100</text>
<text class="t" x="324.1" y="1240.2" textLength="93.3" lengthAdjust="spacingAndGlyphs">BTV-15 JQ086229</text>
<text class="t" x="315.3" y="1258.4" textLength="91.8" lengthAdjust="spacingAndGlyphs">BTV-21 JX272417</text>
<text class="l" style="font-size:10.25px" x="268.0" y="1242.5" text-anchor="end">67</text>
<text class="t" x="311.0" y="1276.7" textLength="95.3" lengthAdjust="spacingAndGlyphs">BTV-16 KF387529</text>
<text class="t" x="313.7" y="1294.9" textLength="91.8" lengthAdjust="spacingAndGlyphs">BTV-23 JX272407</text>
<text class="l" style="font-size:10.25px" x="288.9" y="1278.9" text-anchor="end">99</text>
<text class="t" x="318.2" y="1313.2" textLength="87.7" lengthAdjust="spacingAndGlyphs">BTV-9 JN255910</text>
<text class="l" style="font-size:10.25px" x="275.2" y="1293.0" text-anchor="end">84</text>
<text class="t" x="316.3" y="1331.4" textLength="93.3" lengthAdjust="spacingAndGlyphs">BTV-20 JQ086259</text>
<text class="t" x="322.7" y="1349.7" textLength="87.1" lengthAdjust="spacingAndGlyphs">BTV-3 JQ086289</text>
<text class="t" x="322.7" y="1367.9" textLength="87.1" lengthAdjust="spacingAndGlyphs">BTV-7 JQ086299</text>
<text class="l" style="font-size:10.25px" x="284.4" y="1370.0" text-anchor="end">66</text>
<text class="l" style="font-size:10.25px" x="276.6" y="1355.7" text-anchor="end">58</text>
<text class="l" style="font-size:10.25px" x="269.4" y="1332.9" text-anchor="end">58</text>
<text class="l" style="font-size:10.25px" x="257.6" y="1295.9" text-anchor="end">100</text>
<text class="l" style="font-size:10.25px" x="148.0" y="1189.0" text-anchor="end">100</text>
<text class="t" x="248.5" y="1386.2" textLength="120.3" lengthAdjust="spacingAndGlyphs">BTV-27 v02 KU760995</text>
<text class="t" x="242.6" y="1404.4" textLength="120.3" lengthAdjust="spacingAndGlyphs">BTV-27 v03 KU761005</text>
<text class="t" x="248.5" y="1422.7" textLength="119.6" lengthAdjust="spacingAndGlyphs">BTV-27 v03 LN713678</text>
<text class="l" style="font-size:10.25px" x="217.2" y="1424.1" text-anchor="end">100</text>
<text class="l" style="font-size:10.25px" x="61.8" y="1411.2" text-anchor="end">31</text>
<text class="l" style="font-size:10.25px" x="29.6" y="1291.5" text-anchor="end">42</text>
<text class="t" x="357.1" y="1440.9" textLength="101.4" lengthAdjust="spacingAndGlyphs">BTV-28 MH559816</text>
<text class="t" x="356.3" y="1459.2" textLength="121.8" lengthAdjust="spacingAndGlyphs">SPvvvv/02 MN723878</text>
<text class="t" x="358.2" y="1477.4" textLength="147.7" lengthAdjust="spacingAndGlyphs">BTV-Y TUN2017 MF124290</text>
<text class="t" x="357.1" y="1495.7" textLength="121.8" lengthAdjust="spacingAndGlyphs">SPvvvv/03 MN723888</text>
<text class="l" style="font-size:10.25px" x="343.5" y="1462.0" text-anchor="end">100</text>
<text class="t" x="271.0" y="1513.9" textLength="93.8" lengthAdjust="spacingAndGlyphs">BTV-26 JN255161</text>
<text class="l" style="font-size:10.25px" x="121.0" y="1484.8" text-anchor="end">95</text>
<text class="t" x="231.3" y="1532.2" textLength="139.4" lengthAdjust="spacingAndGlyphs">BTV-X ITL2015 KX234086</text>
<text class="l" style="font-size:10.25px" x="52.8" y="1505.4" text-anchor="end">51</text>
<text class="r" style="font-size:13.16px" x="234.0" y="1548.9" textLength="100.2" lengthAdjust="spacingAndGlyphs">BTV-25-CH2019-1</text>
<rect x="223.1" y="1538.2" width="139.4" height="19.4" class="bx"/>
<text class="t" x="226.6" y="1568.7" textLength="90.0" lengthAdjust="spacingAndGlyphs">BTV25-GER2018</text>
<text class="l" style="font-size:10.25px" x="211.0" y="1553.3" text-anchor="end">100</text>
<text class="r" style="font-size:13.16px" x="214.0" y="1585.4" textLength="89.7" lengthAdjust="spacingAndGlyphs">BTV-36-CH2019</text>
<rect x="202.0" y="1572.8" width="119.2" height="19.5" class="bx"/>
<text class="t" x="217.2" y="1605.2" textLength="82.2" lengthAdjust="spacingAndGlyphs">TOV EU839845</text>
<text class="l" style="font-size:10.25px" x="184.4" y="1607.2" text-anchor="end">100</text>
<text class="l" style="font-size:10.25px" x="131.3" y="1571.5" text-anchor="end">95</text>
<text class="t" x="233.2" y="1623.4" textLength="139.3" lengthAdjust="spacingAndGlyphs">V/196/XJ/2014 KX695178</text>
<text class="t" x="252.4" y="1641.7" textLength="94.8" lengthAdjust="spacingAndGlyphs">BTV-MNG1/2018</text>
<text class="t" x="275.9" y="1659.9" textLength="121.3" lengthAdjust="spacingAndGlyphs">BTV-XJ1407 KR085418</text>
<text class="t" x="262.0" y="1678.2" textLength="94.8" lengthAdjust="spacingAndGlyphs">BTV-MNG2/2016</text>
<text class="t" x="278.0" y="1696.4" textLength="94.8" lengthAdjust="spacingAndGlyphs">BTV-MNG3/2016</text>
<text class="l" style="font-size:10.25px" x="222.6" y="1698.4" text-anchor="end">100</text>
<text class="l" style="font-size:10.25px" x="199.0" y="1684.5" text-anchor="end">50</text>
<text class="l" style="font-size:10.25px" x="188.0" y="1669.1" text-anchor="end">82</text>
<text class="l" style="font-size:10.25px" x="164.0" y="1651.7" text-anchor="end">100</text>
<text class="l" style="font-size:10.25px" x="95.8" y="1620.5" text-anchor="end">100</text>
</g>
<g style="font-size:12.9px">
<text class="t" x="895.1" y="949.2" textLength="91.4" lengthAdjust="spacingAndGlyphs">BTV-3 JQ086290</text>
<text class="t" x="897.3" y="968.3" textLength="96.3" lengthAdjust="spacingAndGlyphs">BTV-21 JX272418</text>
<text class="l" style="font-size:10.75px" x="863.6" y="951.2" text-anchor="end">91</text>
<text class="t" x="889.8" y="987.5" textLength="97.8" lengthAdjust="spacingAndGlyphs">BTV-20 JQ086260</text>
<text class="l" style="font-size:10.75px" x="852.9" y="965.7" text-anchor="end">40</text>
<text class="t" x="896.8" y="1006.6" textLength="91.4" lengthAdjust="spacingAndGlyphs">BTV-7 JQ086300</text>
<text class="l" style="font-size:10.75px" x="849.3" y="982.7" text-anchor="end">56</text>
<text class="t" x="892.0" y="1025.8" textLength="96.3" lengthAdjust="spacingAndGlyphs">BTV-23 JX272408</text>
<text class="t" x="917.5" y="1045.0" textLength="92.0" lengthAdjust="spacingAndGlyphs">BTV-9 JN255911</text>
<text class="t" x="888.7" y="1064.1" textLength="99.9" lengthAdjust="spacingAndGlyphs">BTV-16 KF387530</text>
<text class="l" style="font-size:10.75px" x="866.4" y="1065.3" text-anchor="end">58</text>
<text class="l" style="font-size:10.75px" x="861.4" y="1050.5" text-anchor="end">97</text>
<text class="l" style="font-size:10.75px" x="832.2" y="1007.3" text-anchor="end">94</text>
<text class="t" x="868.5" y="1083.2" textLength="97.8" lengthAdjust="spacingAndGlyphs">BTV-15 JQ086230</text>
<text class="l" style="font-size:10.75px" x="797.9" y="1041.7" text-anchor="end">100</text>
<text class="t" x="913.3" y="1102.4" textLength="96.3" lengthAdjust="spacingAndGlyphs">BTV-19 JX272438</text>
<text class="t" x="873.8" y="1121.5" textLength="97.8" lengthAdjust="spacingAndGlyphs">BTV-11 JQ972860</text>
<text class="t" x="880.2" y="1140.7" textLength="96.3" lengthAdjust="spacingAndGlyphs">BTV-22 JX272398</text>
<text class="t" x="883.4" y="1159.8" textLength="89.8" lengthAdjust="spacingAndGlyphs">BTV-1 JX861497</text>
<text class="t" x="898.3" y="1179.0" textLength="92.0" lengthAdjust="spacingAndGlyphs">BTV-4 JN255891</text>
<text class="l" style="font-size:10.75px" x="865.3" y="1180.6" text-anchor="end">89</text>
<text class="l" style="font-size:10.75px" x="850.4" y="1165.7" text-anchor="end">81</text>
<text class="l" style="font-size:10.75px" x="834.4" y="1149.5" text-anchor="end">100</text>
<text class="l" style="font-size:10.75px" x="768.0" y="1131.4" text-anchor="end">94</text>
<text class="l" style="font-size:10.75px" x="713.7" y="1077.0" text-anchor="end">61</text>
<text class="t" x="841.4" y="1198.1" textLength="96.3" lengthAdjust="spacingAndGlyphs">BTV-17 JX272458</text>
<text class="t" x="857.8" y="1217.3" textLength="89.8" lengthAdjust="spacingAndGlyphs">BTV-6 JX272568</text>
<text class="t" x="882.6" y="1236.5" textLength="96.3" lengthAdjust="spacingAndGlyphs">BTV-12 JX272508</text>
<text class="t" x="888.0" y="1255.6" textLength="96.3" lengthAdjust="spacingAndGlyphs">BTV-13 JX272498</text>
<text class="l" style="font-size:10.75px" x="867.4" y="1239.0" text-anchor="end">97</text>
<text class="t" x="970.1" y="1274.7" textLength="89.8" lengthAdjust="spacingAndGlyphs">BTV-5 JX272578</text>
<text class="t" x="974.3" y="1293.9" textLength="96.3" lengthAdjust="spacingAndGlyphs">BTV-10 JX272528</text>
<text class="l" style="font-size:10.75px" x="957.3" y="1277.7" text-anchor="end">100</text>
<text class="t" x="989.9" y="1313.0" textLength="99.2" lengthAdjust="spacingAndGlyphs">BTV-8 AM498060</text>
<text class="t" x="977.5" y="1332.2" textLength="91.4" lengthAdjust="spacingAndGlyphs">BTV-2 JQ904064</text>
<text class="t" x="966.9" y="1351.3" textLength="96.3" lengthAdjust="spacingAndGlyphs">BTV-14 JX272488</text>
<text class="l" style="font-size:10.75px" x="944.9" y="1334.7" text-anchor="end">60</text>
<text class="t" x="961.3" y="1370.5" textLength="96.3" lengthAdjust="spacingAndGlyphs">BTV-18 JX272448</text>
<text class="t" x="969.8" y="1389.6" textLength="96.3" lengthAdjust="spacingAndGlyphs">BTV-24 JX272378</text>
<text class="l" style="font-size:10.75px" x="944.2" y="1391.0" text-anchor="end">87</text>
<text class="l" style="font-size:10.75px" x="939.3" y="1358.1" text-anchor="end">75</text>
<text class="l" style="font-size:10.75px" x="920.0" y="1326.4" text-anchor="end">100</text>
<text class="l" style="font-size:10.75px" x="859.2" y="1291.6" text-anchor="end">64</text>
<text class="l" style="font-size:10.75px" x="833.3" y="1259.5" text-anchor="end">94</text>
<text class="l" style="font-size:10.75px" x="774.4" y="1233.7" text-anchor="end">100</text>
<text class="l" style="font-size:10.75px" x="677.4" y="1146.3" text-anchor="end">100</text>
<text class="r" style="font-size:13.80px" x="999.0" y="1407.3" textLength="94.0" lengthAdjust="spacingAndGlyphs">BTV-36-CH2019</text>
<rect x="986.5" y="1393.0" width="122.7" height="20.6" class="bx"/>
<text class="t" x="975.1" y="1427.9" textLength="86.2" lengthAdjust="spacingAndGlyphs">TOV EU839846</text>
<text class="l" style="font-size:10.75px" x="928.7" y="1411.7" text-anchor="end">100</text>
<text class="r" style="font-size:13.80px" x="950.6" y="1445.6" textLength="105.1" lengthAdjust="spacingAndGlyphs">BTV-25-CH2019-1</text>
<rect x="938.9" y="1432.5" width="143.1" height="20.3" class="bx"/>
<text class="t" x="940.5" y="1466.2" textLength="94.4" lengthAdjust="spacingAndGlyphs">BTV25-GER2018</text>
<text class="l" style="font-size:10.75px" x="922.5" y="1468.2" text-anchor="end">100</text>
<text class="l" style="font-size:10.75px" x="845.2" y="1430.5" text-anchor="end">59</text>
<text class="t" x="907.4" y="1485.4" textLength="126.2" lengthAdjust="spacingAndGlyphs">BTV-27 v02 KU760996</text>
<text class="l" style="font-size:10.75px" x="814.4" y="1454.7" text-anchor="end">100</text>
<text class="t" x="903.5" y="1504.5" textLength="99.5" lengthAdjust="spacingAndGlyphs">BTV-MNG2/2016</text>
<text class="l" style="font-size:10.75px" x="732.0" y="1475.8" text-anchor="end">44</text>
<text class="t" x="860.8" y="1523.7" textLength="146.2" lengthAdjust="spacingAndGlyphs">BTV-X ITL2015 KX234087</text>
<text class="l" style="font-size:10.75px" x="696.0" y="1496.0" text-anchor="end">49</text>
<text class="t" x="925.5" y="1542.8" textLength="125.4" lengthAdjust="spacingAndGlyphs">BTV-27 v01 LN713679</text>
<text class="t" x="904.2" y="1562.0" textLength="126.2" lengthAdjust="spacingAndGlyphs">BTV-27 v03 KU761006</text>
<text class="l" style="font-size:10.75px" x="849.0" y="1545.9" text-anchor="end">100</text>
<text class="t" x="912.7" y="1581.1" textLength="106.3" lengthAdjust="spacingAndGlyphs">BTV-28 MH559809</text>
<text class="t" x="912.0" y="1600.3" textLength="127.7" lengthAdjust="spacingAndGlyphs">SPvvvv/03 MN723889</text>
<text class="l" style="font-size:10.75px" x="898.9" y="1583.7" text-anchor="end">97</text>
<text class="t" x="925.9" y="1619.5" textLength="127.7" lengthAdjust="spacingAndGlyphs">SPvvvv/02 MN723879</text>
<text class="l" style="font-size:10.75px" x="894.4" y="1598.2" text-anchor="end">100</text>
<text class="t" x="956.6" y="1638.6" textLength="127.2" lengthAdjust="spacingAndGlyphs">BTV-XJ1407 KR085419</text>
<text class="t" x="923.1" y="1657.7" textLength="98.4" lengthAdjust="spacingAndGlyphs">BTV-26 JN255162</text>
<text class="l" style="font-size:10.75px" x="834.6" y="1640.9" text-anchor="end">59</text>
<text class="t" x="886.2" y="1676.9" textLength="99.5" lengthAdjust="spacingAndGlyphs">BTV-MNG3/2016</text>
<text class="t" x="935.1" y="1696.0" textLength="139.8" lengthAdjust="spacingAndGlyphs">V196/XJ/2014 KX695179</text>
<text class="t" x="907.0" y="1715.2" textLength="99.5" lengthAdjust="spacingAndGlyphs">BTV-MNG1/2018</text>
<text class="l" style="font-size:10.75px" x="872.3" y="1717.1" text-anchor="end">85</text>
<text class="l" style="font-size:10.75px" x="860.5" y="1702.7" text-anchor="end">100</text>
<text class="l" style="font-size:10.75px" x="804.4" y="1681.7" text-anchor="end">70</text>
<text class="l" style="font-size:10.75px" x="773.6" y="1648.4" text-anchor="end">90</text>
<text class="l" style="font-size:10.75px" x="734.4" y="1606.2" text-anchor="end">99</text>
</g>
<text class="ti" style="font-size:26.7px" x="8.3" y="203.3" textLength="62" lengthAdjust="spacingAndGlyphs">Seg-7</text>
<g class="sb"><line x1="41.3" y1="774" x2="95.4" y2="774"/><line x1="41.3" y1="771.3" x2="41.3" y2="776.7"/><line x1="95.4" y1="771.3" x2="95.4" y2="776.7"/></g>
<text class="sc" x="54.6" y="801.2" textLength="27" lengthAdjust="spacingAndGlyphs">0,050</text>
<text class="ti" style="font-size:27.2px" x="610.4" y="245.2" textLength="64.5" lengthAdjust="spacingAndGlyphs">Seg-8</text>
<text class="ti" style="font-size:27.3px" x="47.5" y="1082.5" textLength="66.5" lengthAdjust="spacingAndGlyphs">Seg-9</text>
<text class="ti" style="font-size:28.7px" x="588.9" y="1087.5" textLength="82.2" lengthAdjust="spacingAndGlyphs">Seg-10</text>
<g class="sb"><line x1="616.8" y1="787.7" x2="668.9" y2="787.7"/><line x1="616.8" y1="785.0" x2="616.8" y2="790.4000000000001"/><line x1="668.9" y1="785.0" x2="668.9" y2="790.4000000000001"/></g>
<text class="sc" x="629" y="814.3" textLength="27" lengthAdjust="spacingAndGlyphs">0,050</text>
<g class="sb"><line x1="29.8" y1="1738.1" x2="77.7" y2="1738.1"/><line x1="29.8" y1="1735.3999999999999" x2="29.8" y2="1740.8"/><line x1="77.7" y1="1735.3999999999999" x2="77.7" y2="1740.8"/></g>
<text class="sc" x="39.8" y="1766" textLength="27" lengthAdjust="spacingAndGlyphs">0,050</text>
<g class="sb"><line x1="633.3" y1="1759.1" x2="708.4" y2="1759.1"/><line x1="633.3" y1="1756.3999999999999" x2="633.3" y2="1761.8"/><line x1="708.4" y1="1756.3999999999999" x2="708.4" y2="1761.8"/></g>
<text class="sc" x="656" y="1787.7" textLength="27" lengthAdjust="spacingAndGlyphs">0,050</text>
</g>
</svg>
</body></html>
